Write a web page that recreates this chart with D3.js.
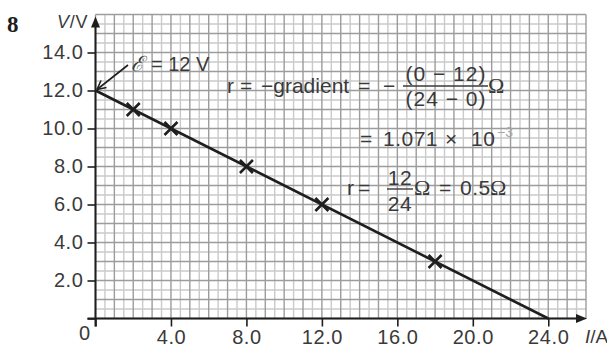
<!DOCTYPE html>
<html>
<head>
<meta charset="utf-8">
<script src="https://cdn.jsdelivr.net/npm/d3@7"></script>
<style>
  body { margin: 0; background: #fff; }
  svg { display: block; }
</style>
</head>
<body>
<div id="chart"></div>
<script>
// measured points (I in A, V in V)
const currentA = [2, 4, 8, 12, 18];
const voltageV = [11, 10, 8, 6, 3];
// best-fit line end points
const fitI = [0, 24];
const fitV = [12, 0];
const xTicks = [4, 8, 12, 16, 20, 24];
const yTicks = [2, 4, 6, 8, 10, 12, 14];
const emf = 12;

const width = 607, height = 344;
const ink = "#1e1e1e", label = "#3a3a3a";
const sans = "'Liberation Sans', Arial, sans-serif";
const serif = "'Liberation Serif', 'DejaVu Serif', serif";

const x = d3.scaleLinear().domain([0, 26]).range([95.5, 586]);
const y = d3.scaleLinear().domain([0, 16]).range([318.5, 14.5]);

const svg = d3.select("#chart").append("svg")
  .attr("width", width)
  .attr("height", height)
  .attr("viewBox", [0, 0, width, height]);

// graph paper
const half = d3.range(0, 26.01, 0.5);
const halfY = d3.range(0, 16.01, 0.5);
const grid = svg.append("g").attr("stroke-width", 1.4);
const gridLines = (minor, color) => {
  grid.append("g").attr("stroke", color)
    .selectAll("line")
    .data(half.filter(d => (d % 1 !== 0) === minor))
    .join("line")
      .attr("x1", d => x(d)).attr("x2", d => x(d))
      .attr("y1", y(0)).attr("y2", y(16));
  grid.append("g").attr("stroke", color)
    .selectAll("line")
    .data(halfY.filter(d => (d % 1 !== 0) === minor))
    .join("line")
      .attr("y1", d => y(d)).attr("y2", d => y(d))
      .attr("x1", x(0)).attr("x2", x(26));
};
gridLines(true, "#cacaca");
gridLines(false, "#9c9c9c");

// axes
const yAxis = svg.append("g")
  .attr("transform", `translate(${x(0)},0)`)
  .call(d3.axisLeft(y).tickValues([0, ...yTicks]).tickSize(8).tickPadding(4)
    .tickFormat(d => d === 0 ? "" : d.toFixed(1)));
const xAxis = svg.append("g")
  .attr("transform", `translate(0,${y(0)})`)
  .call(d3.axisBottom(x).tickValues([0, ...xTicks]).tickSize(8).tickPadding(3)
    .tickFormat(d => d === 0 ? "" : d.toFixed(1)));
[xAxis, yAxis].forEach(g => {
  g.select(".domain").remove();
  g.selectAll(".tick line").attr("stroke", ink).attr("stroke-width", 1.6);
  g.selectAll(".tick text")
    .attr("fill", label)
    .attr("font-family", sans)
    .attr("font-size", 20)
    .attr("letter-spacing", 0.6);
});

svg.append("line")
  .attr("x1", x(0)).attr("x2", x(0))
  .attr("y1", y(0) + 8).attr("y2", y(16) + 6)
  .attr("stroke", ink).attr("stroke-width", 2);
svg.append("line")
  .attr("x1", x(0) - 8).attr("x2", x(26) - 6)
  .attr("y1", y(0)).attr("y2", y(0))
  .attr("stroke", ink).attr("stroke-width", 2);
svg.append("path")
  .attr("d", `M${x(0)},${y(16) + 2}L${x(0) - 4.5},${y(16) + 13}L${x(0) + 4.5},${y(16) + 13}Z`)
  .attr("fill", ink);
svg.append("path")
  .attr("d", `M${x(26) + 1},${y(0)}L${x(26) - 10},${y(0) - 4.5}L${x(26) - 10},${y(0) + 4.5}Z`)
  .attr("fill", ink);

svg.append("text")
  .attr("x", x(0) - 11).attr("y", 340)
  .attr("text-anchor", "middle")
  .attr("fill", label).attr("font-family", sans).attr("font-size", 20)
  .text("0");

// axis titles
svg.append("text")
  .attr("x", 7).attr("y", 32)
  .attr("font-family", serif).attr("font-weight", "bold").attr("font-size", 23)
  .attr("fill", ink)
  .text("8");
const vt = svg.append("text")
  .attr("x", 57).attr("y", 28)
  .attr("font-family", sans).attr("font-size", 18).attr("fill", label)
  .attr("letter-spacing", 0.8);
vt.append("tspan").attr("font-style", "italic").text("V");
vt.append("tspan").text("/V");
const it = svg.append("text")
  .attr("x", 585).attr("y", 343)
  .attr("font-family", sans).attr("font-size", 19).attr("fill", label);
it.append("tspan").attr("font-style", "italic").text("I");
it.append("tspan").text("/A");

// best-fit line and crosses
svg.append("path")
  .datum(fitI.map((d, i) => [d, fitV[i]]))
  .attr("fill", "none")
  .attr("stroke", ink)
  .attr("stroke-width", 2.6)
  .attr("d", d3.line().x(d => x(d[0])).y(d => y(d[1])));

const s = 6.5;
svg.append("g")
  .attr("stroke", ink).attr("stroke-width", 2.6)
  .selectAll("path")
  .data(currentA.map((d, i) => [d, voltageV[i]]))
  .join("path")
    .attr("d", d => {
      const cx = x(d[0]), cy = y(d[1]);
      return `M${cx - s},${cy - s}L${cx + s},${cy + s}M${cx - s},${cy + s}L${cx + s},${cy - s}`;
    });

// EMF annotation
const ex = x(0) + 1.5, ey = y(emf) - 1;
svg.append("line")
  .attr("x1", 128).attr("y1", 65).attr("x2", ex).attr("y2", ey)
  .attr("stroke", ink).attr("stroke-width", 1.6);
svg.append("path")
  .attr("d", `M${ex},${ey}L${ex + 4},${ey - 9}M${ex},${ey}L${ex + 9.5},${ey - 2}`)
  .attr("stroke", ink).attr("stroke-width", 1.6).attr("fill", "none");
svg.append("text")
  .attr("x", 131).attr("y", 71)
  .attr("font-family", serif).attr("font-style", "italic").attr("font-size", 21)
  .attr("fill", label).text("ℰ");
svg.append("text")
  .attr("x", 151).attr("y", 71)
  .attr("font-family", sans).attr("font-size", 20)
  .attr("fill", label).text(`= ${emf} V`);

// working
const txt = (tx, ty, t, opts = {}) => svg.append("text")
  .attr("x", tx).attr("y", ty)
  .attr("font-family", opts.family || sans)
  .attr("font-size", opts.size || 21)
  .attr("letter-spacing", opts.spacing ?? 0.5)
  .attr("text-anchor", opts.anchor || "start")
  .attr("fill", opts.fill || label)
  .text(t);
const bar = (x1, x2, by) => svg.append("line")
  .attr("x1", x1).attr("x2", x2).attr("y1", by).attr("y2", by)
  .attr("stroke", label).attr("stroke-width", 1.4);

txt(227, 93, "r");
txt(240, 93, "=");
txt(261, 93, "−gradient", { spacing: 0 });
txt(358, 93, "=");
txt(383, 93, "−");
txt(446, 81, "(0 − 12)", { anchor: "middle", spacing: 1 });
bar(403, 488, 86);
txt(446, 106, "(24 − 0)", { anchor: "middle", spacing: 1 });
txt(488, 93, "Ω", { family: serif, size: 22, spacing: 0 });

txt(360, 146, "=");
txt(383, 146, "1.071");
txt(445, 146, "×");
txt(471, 146, "10");
txt(497, 137, "−3", { size: 14, fill: "#a8a8a8", spacing: 0 });

txt(347, 195, "r");
txt(358, 195, "=");
txt(400, 185, "12", { anchor: "middle" });
bar(387, 413, 189);
txt(400, 211, "24", { anchor: "middle" });
txt(414, 195, "Ω", { family: serif, size: 22, spacing: 0 });
txt(439, 195, "=");
txt(460, 195, "0.5");
txt(490, 195, "Ω", { family: serif, size: 22, spacing: 0 });
</script>
</body>
</html>
